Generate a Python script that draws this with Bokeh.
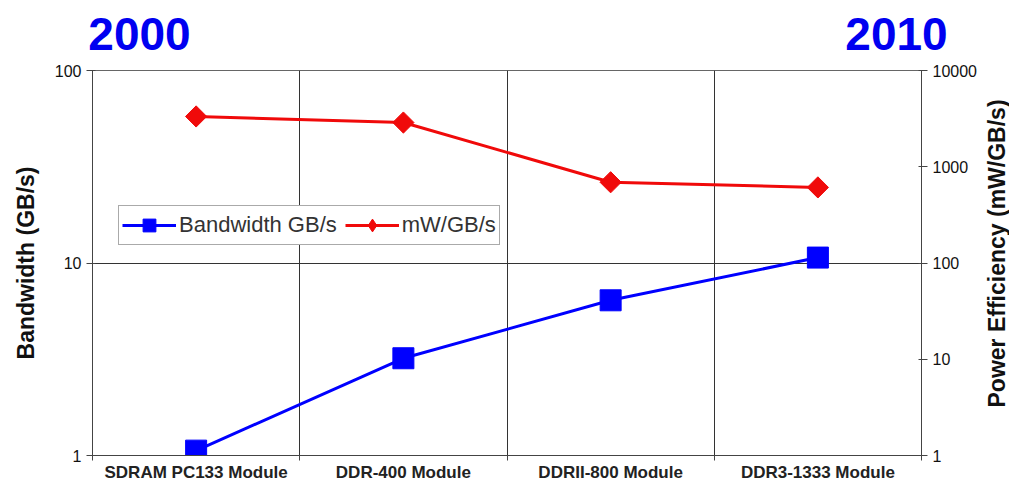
import math
from bokeh.plotting import figure
from bokeh.layouts import column, row
from bokeh.models import (Range1d, LogScale, LogAxis, FixedTicker, PrintfTickFormatter,
                          Legend, LegendItem)
from bokeh.core.properties import value
from bokeh.embed import file_html
from bokeh.resources import INLINE

categories = ["SDRAM PC133 Module", "DDR-400 Module", "DDRII-800 Module", "DDR3-1333 Module"]
bandwidth = [1.06, 3.2, 6.4, 10.67]
power = [3330, 2880, 690, 610]
left_ticks = [1, 10, 100]
right_ticks = [1, 10, 100, 1000, 10000]
years = ["2000", "2010"]
right_label = "Power Efficiency (mW/GB/s)"

FONT = "Liberation Sans"
xs = list(range(1, len(categories) + 1))
bounds = [i + 0.5 for i in range(0, len(categories) + 1)]

HDR_H = 61
BL, FW, BR = 92, 829, 60
BT, FH, BB = 70 - HDR_H, 385, 30
RW = 28
P_W = BL + FW + BR
P_H = BT + FH + BB
TOT_W = P_W + RW

p = figure(frame_width=FW, frame_height=FH, x_range=Range1d(0.5, len(categories) + 0.5),
           y_range=Range1d(1, 100), y_axis_type="log", output_backend="svg",
           toolbar_location=None, min_border_left=BL, min_border_right=BR,
           min_border_top=BT, min_border_bottom=BB, background_fill_color="white",
           border_fill_color="white", outline_line_color="#666666")

p.extra_y_ranges = {"pw": Range1d(1, 10000)}
p.extra_y_scales = {"pw": LogScale()}

# x axis
xa = p.xaxis[0]
xa.ticker = FixedTicker(ticks=xs, minor_ticks=bounds)
xa.major_label_overrides = {x: c for x, c in zip(xs, categories)}
xa.major_tick_out = 0
xa.major_tick_in = 0
xa.minor_tick_out = 5
xa.minor_tick_in = 0
xa.minor_tick_line_color = "#444444"
xa.axis_line_color = "#444444"
xa.major_label_text_font = FONT
xa.major_label_text_font_style = "bold"
xa.major_label_text_font_size = "17px"
xa.major_label_text_color = "#222222"
xa.major_label_standoff = 2

# left axis
ya = p.yaxis[0]
ya.ticker = FixedTicker(ticks=left_ticks, minor_ticks=[])
ya.formatter = PrintfTickFormatter(format="%d")
ya.axis_label = "Bandwidth (GB/s)"
ya.axis_label_text_font = FONT
ya.axis_label_text_font_style = "bold"
ya.axis_label_text_font_size = "23px"
ya.axis_label_text_color = "#111111"
ya.axis_label_standoff = 13
ya.major_label_text_font = FONT
ya.major_label_text_font_size = "16px"
ya.major_label_text_color = "#111111"
ya.major_tick_out = 6
ya.major_tick_in = 3
ya.major_tick_line_color = "#444444"
ya.axis_line_color = "#444444"
ya.minor_tick_line_color = None

# right axis (title drawn in a side strip so it reads bottom-to-top)
ra = LogAxis(y_range_name="pw", ticker=FixedTicker(ticks=right_ticks, minor_ticks=[]),
             formatter=PrintfTickFormatter(format="%d"))
ra.major_label_text_font = FONT
ra.major_label_text_font_size = "16px"
ra.major_label_text_color = "#111111"
ra.major_tick_out = 6
ra.major_tick_in = 3
ra.major_tick_line_color = "#444444"
ra.axis_line_color = "#444444"
ra.minor_tick_line_color = None
p.add_layout(ra, "right")

# grids
p.xgrid.ticker = FixedTicker(ticks=bounds[1:-1])
p.xgrid.grid_line_color = "#333333"
p.xgrid.grid_line_width = 1
p.ygrid.ticker = FixedTicker(ticks=left_ticks)
p.ygrid.grid_line_color = "#333333"
p.ygrid.grid_line_width = 1

# series
bl = p.line(xs, bandwidth, line_color="#0000FF", line_width=3)
bs = p.scatter(xs, bandwidth, marker="square", size=21, fill_color="#0000FF", line_color="#0000FF")
rl = p.line(xs, power, y_range_name="pw", line_color="#F00A0A", line_width=3)
# diamond (used for the legend glyph), covered by the rotated square drawn on top
rd = p.scatter(xs, power, y_range_name="pw", marker="diamond", size=19,
               fill_color="#F00A0A", line_color="#F00A0A")
rs = p.scatter(xs, power, y_range_name="pw", marker="square", angle=math.pi / 4, size=15,
               fill_color="#F00A0A", line_color="#F00A0A")

legend = Legend(items=[LegendItem(label="Bandwidth GB/s", renderers=[bl, bs]),
                       LegendItem(label="mW/GB/s", renderers=[rl, rd])],
                orientation="horizontal", location=(26, 210))
legend.label_text_font = FONT
legend.label_text_font_size = "22px"
legend.label_text_color = "#333333"
legend.glyph_width = 54
legend.glyph_height = 32
legend.label_standoff = 3
legend.spacing = 8
legend.padding = 3
legend.margin = 0
legend.border_line_color = "#555555"
legend.border_line_width = 1
legend.background_fill_color = "white"
legend.background_fill_alpha = 1
p.add_layout(legend)

# header strip with year labels
hdr = figure(width=TOT_W, height=HDR_H, x_range=Range1d(0, TOT_W), y_range=Range1d(0, HDR_H),
             output_backend="svg", toolbar_location=None, min_border=0,
             x_axis_location=None, y_axis_location=None, outline_line_color=None,
             background_fill_color="white", border_fill_color="white")
hdr.grid.visible = False
hdr.text(x=[139, 896], y=[HDR_H - 33, HDR_H - 33], text=years,
         text_font=value(FONT), text_font_size=value("46px"), text_font_style="bold",
         text_color="#0000F0", text_align="center", text_baseline="middle")

# right strip with the right axis title
rf = figure(width=RW, height=P_H, x_range=Range1d(0, RW), y_range=Range1d(0, P_H),
            output_backend="svg", toolbar_location=None, min_border=0,
            x_axis_location=None, y_axis_location=None, outline_line_color=None,
            background_fill_color="white", border_fill_color="white")
rf.grid.visible = False
rf.text(x=[15], y=[P_H - (BT + FH / 2)], text=[right_label], angle=math.pi / 2,
        text_font=value(FONT), text_font_size=value("23px"), text_font_style="bold",
        text_color="#111111", text_align="center", text_baseline="middle")

layout = column(hdr, row(p, rf, spacing=0), spacing=0)
open("out.html", "w").write(file_html(layout, INLINE))
